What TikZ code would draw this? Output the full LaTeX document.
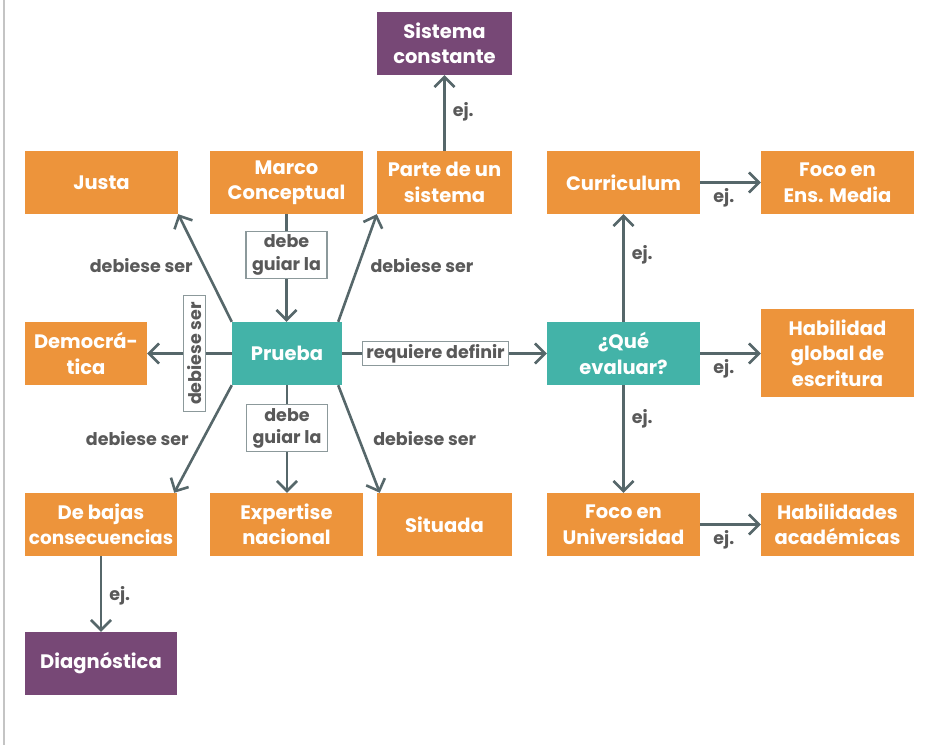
\documentclass[tikz,border=0pt]{standalone}
\usepackage{fontspec}
\setmainfont{Poppins}
\usetikzlibrary{arrows.meta}
\definecolor{orng}{HTML}{ED943B}
\definecolor{tealbox}{HTML}{43B3A8}
\definecolor{plum}{HTML}{774876}
\definecolor{linkcol}{HTML}{56676A}
\definecolor{lbl}{HTML}{595959}
\definecolor{lblframe}{HTML}{8C999B}
\definecolor{rule}{HTML}{C4C4C4}

\begin{document}
\begin{tikzpicture}[x=1pt,y=-1pt,
  box/.style={rectangle, inner sep=0pt, text=white, align=center,
    font=\fontsize{19.5}{25.5}\selectfont\bfseries, minimum height=63pt},
  obox/.style={box, fill=orng},
  tbox/.style={box, fill=tealbox},
  pbox/.style={box, fill=plum},
  arr/.style={draw=linkcol, line width=2.6pt,
    -{Straight Barb[length=10pt,width=20pt]}},
  tag/.style={text=lbl, font=\fontsize{17.5}{22.5}\selectfont\bfseries, inner sep=2pt},
  tagbox/.style={tag, draw=lblframe, line width=1.2pt, fill=white,
    align=center, inner xsep=5pt, inner ysep=3pt},
]
\useasboundingbox (0,0) rectangle (926,745);
\draw[rule, line width=1.6pt] (4,0) -- (4,745);

% boxes
\node[pbox, minimum width=135pt] (sist)    at (444.5,43.5)  {Sistema\\constante};
\node[obox, minimum width=153pt] (justa)   at (101.5,182.5) {Justa};
\node[obox, minimum width=153pt] (marco)   at (286.5,182.5) {Marco\\Conceptual};
\node[obox, minimum width=135pt] (parte)   at (444.5,182.5) {Parte de un\\sistema};
\node[obox, minimum width=153pt] (curr)    at (623.5,182.5) {Curriculum};
\node[obox, minimum width=153pt] (focoem)  at (837.5,182.5) {Foco en\\Ens. Media};
\node[obox, minimum width=122pt] (democ)   at (86,353.5)    {Democrá-\\tica};
\node[tbox, minimum width=110pt] (prueba)  at (287,353.5)   {Prueba};
\node[tbox, minimum width=153pt] (que)     at (623.5,353.5) {¿Qué\\evaluar?};
\node[obox, minimum width=153pt, minimum height=88pt] (hab) at (837.5,353) {Habilidad\\global de\\escritura};
\node[obox, minimum width=152pt] (bajas)   at (101,524.5)   {De bajas\\{\fontsize{18.5}{25.5}\selectfont consecuencias}};
\node[obox, minimum width=153pt] (expert)  at (286.5,524.5) {Expertise\\nacional};
\node[obox, minimum width=135pt] (situada) at (444.5,524.5) {Situada};
\node[obox, minimum width=153pt] (focouni) at (623.5,524.5) {Foco en\\Universidad};
\node[obox, minimum width=153pt] (habac)   at (837.5,524.5) {Habilidades\\académicas};
\node[pbox, minimum width=152pt] (diag)    at (101,663.5)   {Diagnóstica};

% connectors around Prueba
\draw[arr] (prueba.north west) -- (justa.south east)
  node[tag, pos=0.52, anchor=east, xshift=-8pt] (t1) {debiese ser};
\draw[arr] ([xshift=-4pt]prueba.north east) -- (parte.south west)
  node[tag, pos=0.52, anchor=west, xshift=9pt] (t2) {debiese ser};
\draw[arr] (prueba.south west) -- ([xshift=-3pt]bajas.north east)
  node[tag, pos=0.5, anchor=east, xshift=-11pt] (t3) {debiese ser};
\draw[arr] ([xshift=-4pt]prueba.south east) -- ([xshift=3pt]situada.north west)
  node[tag, pos=0.5, anchor=west, xshift=11pt] (t4) {debiese ser};
\draw[arr] (marco.south) -- (marco.south |- prueba.north)
  node[tagbox, pos=0.38, inner xsep=6pt, inner ysep=3.5pt] (g1) {debe\\guiar la};
\draw[arr] (prueba.south) -- (prueba.south |- expert.north)
  node[tagbox, pos=0.40, inner xsep=6pt, inner ysep=3.5pt] (g2) {debe\\guiar la};
\draw[arr] (prueba.west) -- (democ.east)
  node[tagbox, pos=0.44, rotate=90, inner xsep=7pt, inner ysep=4pt] (d1) {debiese ser};
\draw[arr] (prueba.east) -- (que.west)
  node[tagbox, pos=0.456, inner xsep=4pt, inner ysep=2.5pt] (r1) {requiere definir};

% examples
\draw[arr] (parte.north) -- (sist.south)
  node[tag, pos=0.51, anchor=west, xshift=5pt] (e1) {ej.};
\draw[arr] (que.north) -- (curr.south)
  node[tag, pos=0.62, anchor=west, xshift=5pt] (e2) {ej.};
\draw[arr] (que.south) -- (focouni.north)
  node[tag, pos=0.31, anchor=west, xshift=5pt] (e3) {ej.};
\draw[arr] (curr.east) -- (focoem.west)
  node[tag, pos=0.39, anchor=north, yshift=-3pt] (e4) {ej.};
\draw[arr] (que.east) -- (que.east -| hab.west)
  node[tag, pos=0.39, anchor=north, yshift=-3pt] (e5) {ej.};
\draw[arr] (focouni.east) -- (habac.west)
  node[tag, pos=0.39, anchor=north, yshift=-3pt] (e6) {ej.};
\draw[arr] (bajas.south) -- (diag.north)
  node[tag, pos=0.53, anchor=west, xshift=5pt] (e7) {ej.};
\end{tikzpicture}
\end{document}
